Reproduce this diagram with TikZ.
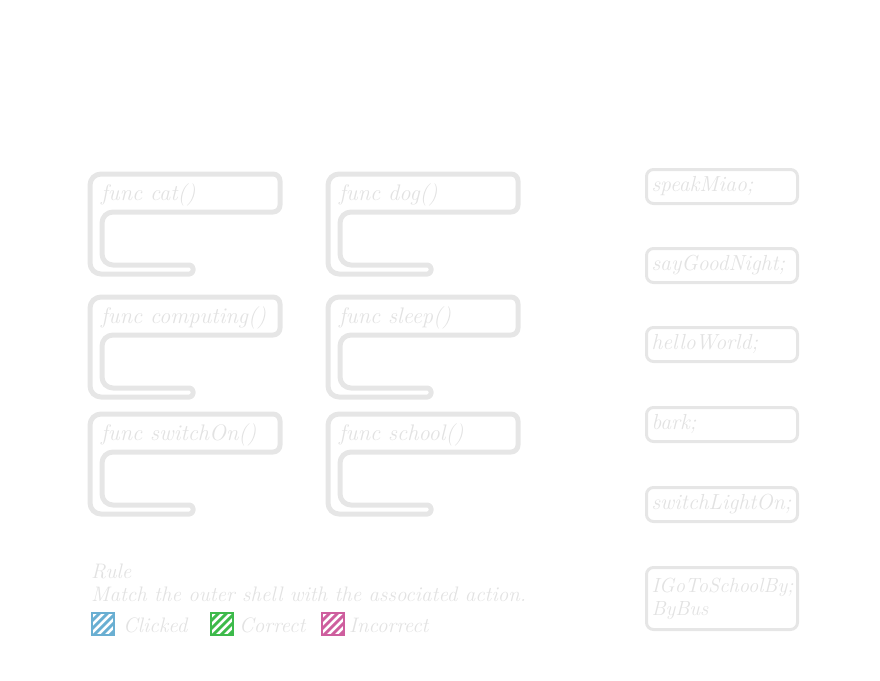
\documentclass[tikz,border=0pt]{standalone}
\usepackage{fontspec}
\definecolor{shellgray}{HTML}{E6E6E6}
\definecolor{txtgray}{HTML}{E2E2E2}
\definecolor{clickblue}{HTML}{6AAFD2}
\definecolor{okgreen}{HTML}{3DBA4B}
\definecolor{badpink}{HTML}{CE5E9E}
\begin{document}
\begin{tikzpicture}[x=1pt,y=-1pt,
  shell/.style={draw=shellgray, line width=5pt, line join=round},
  ftext/.style={anchor=base west, inner sep=0pt, text=txtgray, font=\fontsize{22.5}{24}\selectfont\itshape},
  act/.style={draw=shellgray, line width=3pt, rounded corners=7pt, minimum width=151pt, minimum height=34pt,
    text width=141pt, inner xsep=5pt, inner ysep=0pt, align=left, text=txtgray,
    font=\fontsize{21.8}{23}\selectfont\itshape, anchor=north west},
  legtext/.style={anchor=base west, inner sep=0pt, text=txtgray, font=\fontsize{21}{23}\selectfont\itshape},
  legsq/.style={draw=#1, minimum size=22pt, inner sep=0pt, line width=1.8pt, anchor=north west,
    path picture={\foreach \i in {-22,-14,...,24}{\draw[line width=2.8pt,#1] ([xshift=\i pt]path picture bounding box.south west) -- ++(26pt,26pt);}}}
]
\useasboundingbox (0,0) rectangle (880,680);
% shells
\foreach \x/\y/\n/\t in {90/174/cat/func cat(), 328/174/dog/func dog(),
  90/297/comp/func computing(), 328/297/sleep/func sleep(),
  90/414/switch/func switchOn(), 328/414/school/func school()}{
  \draw[shell] (\x+95,\y) [rounded corners=7pt] -- (\x+190,\y) -- (\x+190,\y+38) [rounded corners=11pt] -- (\x+12,\y+38)
    -- (\x+12,\y+91) [rounded corners=3.5pt] -- (\x+103,\y+91) -- (\x+103,\y+100) [rounded corners=11pt] -- (\x,\y+100) -- (\x,\y) -- cycle;
  \node[ftext] (f\n) at (\x+11,\y+26) {\t};
}
% actions
\node[act] (aspeak) at (645,168) {speakMiao;};
\node[act] (anight) at (645,247) {sayGoodNight;};
\node[act] (ahello) at (645,326) {helloWorld;};
\node[act] (abark) at (645,406) {bark;};
\node[act] (alight) at (645,486) {switchLightOn;};
\node[act, minimum height=62pt, font=\fontsize{20.5}{23}\selectfont\itshape] (abus) at (645,566) {IGoToSchoolBy;\\ByBus};
% legend
\node[legtext] (rule) at (91,578) {Rule};
\node[legtext] (rtext) at (91,601) {Match the outer shell with the associated action.};
\node[legsq=clickblue] (sqclick) at (91,612) {};
\node[legtext] (tclick) at (123,632) {Clicked};
\node[legsq=okgreen] (sqok) at (210,612) {};
\node[legtext] (tok) at (239,632) {Correct};
\node[legsq=badpink] (sqbad) at (321,612) {};
\node[legtext] (tbad) at (349,632) {Incorrect};
\end{tikzpicture}
\end{document}
